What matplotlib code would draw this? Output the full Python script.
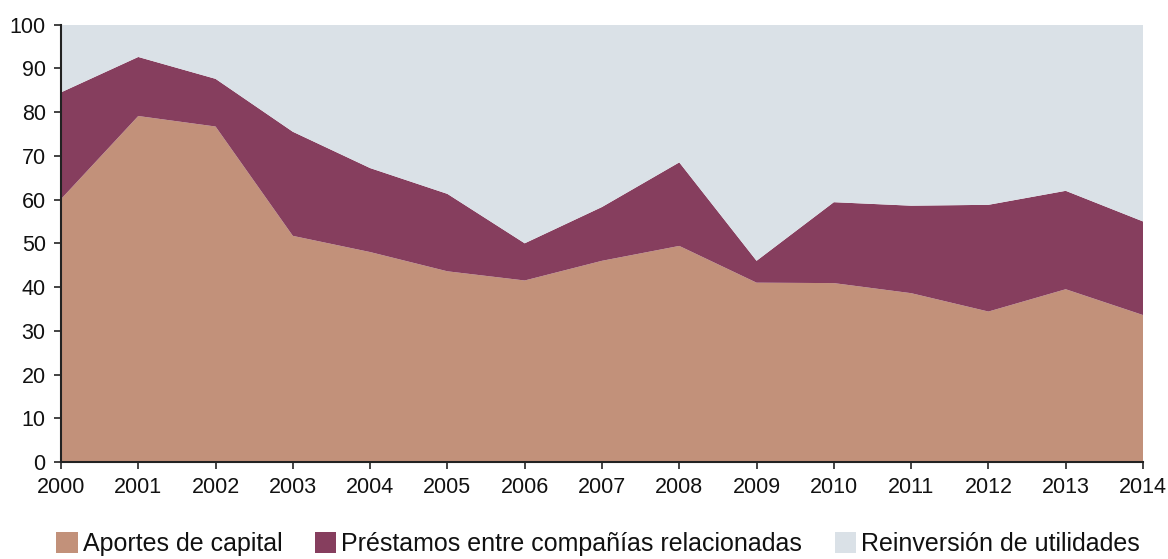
import matplotlib.pyplot as plt
from matplotlib.patches import Patch
import numpy as np

plt.rcParams['font.family'] = ['Liberation Sans', 'DejaVu Sans']

# datos (porcentajes)
years = [2000, 2001, 2002, 2003, 2004, 2005, 2006, 2007, 2008, 2009, 2010, 2011, 2012, 2013, 2014]
aportes = [60.1, 79.1, 76.7, 51.7, 48.0, 43.6, 41.5, 46.0, 49.4, 41.0, 40.9, 38.6, 34.4, 39.5, 33.6]
prestamos = [24.4, 13.5, 10.9, 23.8, 19.2, 17.7, 8.5, 12.3, 19.1, 5.0, 18.5, 20.0, 24.4, 22.5, 21.4]
reinversion = [15.5, 7.4, 12.4, 24.5, 32.8, 38.7, 50.0, 41.7, 31.5, 54.0, 40.6, 41.4, 41.2, 38.0, 45.0]

labels = ['Aportes de capital', 'Préstamos entre compañías relacionadas', 'Reinversión de utilidades']
colors = ['#C2917A', '#863E5E', '#DAE1E7']

fig = plt.figure(figsize=(11.68, 5.59), dpi=100)
ax = fig.add_axes([0.0522, 0.1735, 0.9264, 0.7825])
ax.stackplot(years, aportes, prestamos, reinversion, colors=colors, linewidth=0)

ax.set_xlim(2000, 2014)
ax.set_ylim(0, 100)
ax.set_xticks(years)
ax.set_yticks(np.arange(0, 101, 10))
ax.tick_params(labelsize=15.5, length=5, width=1.2, color='#222222', labelcolor='#111111', pad=6)
for s in ['top', 'right']:
    ax.spines[s].set_visible(False)
for s in ['left', 'bottom']:
    ax.spines[s].set_linewidth(1.5)
    ax.spines[s].set_color('#222222')

handles = [Patch(facecolor=c, edgecolor='none') for c in colors]
fig.legend(handles, labels, loc='lower center', bbox_to_anchor=(0.512, -0.035), ncol=3,
           frameon=False, fontsize=18, handlelength=0.86, handleheight=0.9,
           handletextpad=0.2, columnspacing=1.3, labelcolor='#111111')

fig.savefig('out.png', dpi=100)
